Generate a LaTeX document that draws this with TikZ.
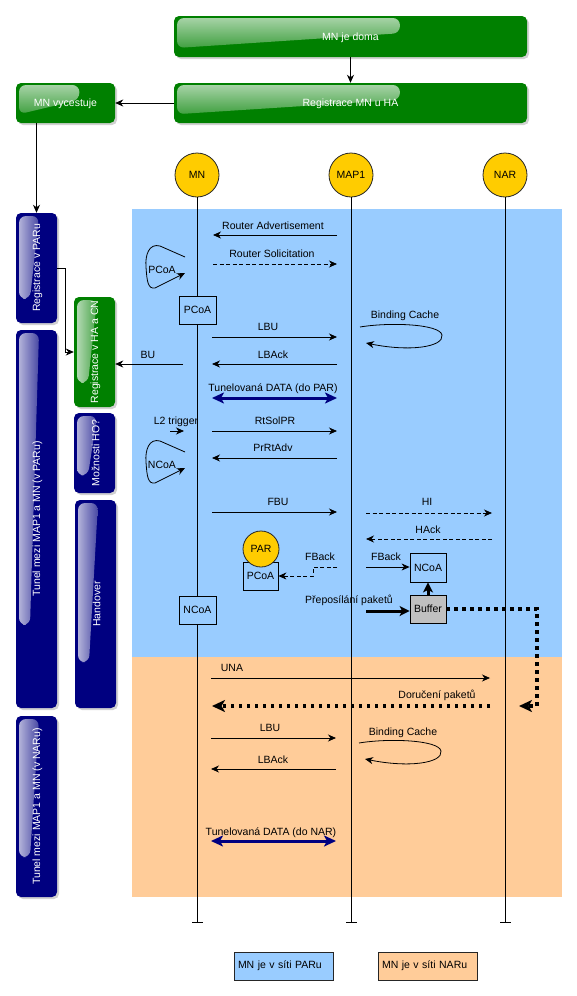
\documentclass[tikz,border=0pt]{standalone}
\usepackage{fontspec}
\setmainfont{Liberation Sans}
\usetikzlibrary{arrows.meta,calc}
\definecolor{navyc}{RGB}{0,0,128}
\definecolor{greenc}{RGB}{0,128,0}
\definecolor{areablue}{RGB}{153,204,255}
\definecolor{areaorange}{RGB}{255,204,153}
\definecolor{goldc}{RGB}{255,204,0}
\definecolor{bufgray}{RGB}{192,192,192}
\tikzset{
  txt/.style={font=\fontsize{10.5}{12}\selectfont, inner sep=0pt},
  lbl/.style={txt, text height=8pt, text depth=2pt},
  wtxt/.style={txt, text=white},
  arr/.style={line width=0.8pt, -{Stealth[length=8pt,width=7pt,inset=2.5pt]}},
  darr/.style={arr, dash pattern=on 4pt off 2.5pt},
  thickarr/.style={line width=3pt, -{Stealth[length=10pt,width=10pt,inset=2.5pt]}},
  tunarr/.style={line width=3pt, draw=navyc, {Stealth[length=12pt,width=11pt,inset=3pt]}-{Stealth[length=12pt,width=11pt,inset=3pt]}},
  pktdots/.style={line width=3.5pt, dash pattern=on 3.5pt off 4.5pt, -{Stealth[length=13pt,width=12pt,inset=3.5pt]}},
  life/.style={line width=0.8pt, -{Bar[width=11pt,line width=0.8pt]}},
  actor/.style={circle, draw=black!85, line width=0.8pt, fill=goldc, minimum size=44pt, inner sep=0pt, font=\fontsize{10.5}{12}\selectfont},
  coabox/.style={draw=black, line width=0.8pt, txt, inner sep=0pt},
  legendbox/.style={draw=black!85, line width=0.8pt, txt, minimum height=28pt, text width=91pt, inner xsep=4pt, align=left},
  boxshadow/.style={fill=black, opacity=0.18},
  coaloop/.pic={\draw[arr] (0,0) -- (-25,-11) .. controls (-36,-14) and (-40,-2) .. (-39,10) .. controls (-38,25) and (-37,32) .. (-30,31) -- (0,16);},
  bcloop/.pic={\draw[arr] (0,0) .. controls (30,-5) and (80,-3) .. (82,8) .. controls (84,20) and (50,25) .. (6,16);}
}
\newcommand\sidebar[7]{%
  \fill[boxshadow, rounded corners=5pt] ({#2+2},{#3+2}) rectangle ({#4+2},{#5+2});
  \node[fill=#6, rounded corners=5pt, inner sep=0pt, minimum width={#4-#2}, minimum height={#5-#3}] (#1) at ({(#2+#4)/2},{(#3+#5)/2}) {};
  \shade[left color=#6!30!white, right color=#6!72!white, rounded corners=7pt] ({#2+3},{#3+3}) -- ({#2+23},{#3+3}) -- ({#2+14},{#3+0.78*(#5-#3)}) -- ({#2+3},{#3+0.78*(#5-#3)}) -- cycle;
  \node[wtxt, rotate=90] (#1t) at ({(#2+#4)/2+1},{(#3+#5)/2}) {#7};
}
\newcommand\greenbox[6]{%
  \fill[boxshadow, rounded corners=5pt] ({#2+2},{#3+2}) rectangle ({#4+2},{#5+2});
  \node[fill=greenc, rounded corners=5pt, inner sep=0pt, minimum width={#4-#2}, minimum height={#5-#3}] (#1) at ({(#2+#4)/2},{(#3+#5)/2}) {};
  \shade[top color=greenc!35!white, bottom color=greenc!75!white, rounded corners=7pt] ({#2+3},{#3+2}) -- ({#2+0.64*(#4-#2)},{#3+2}) -- ({#2+0.64*(#4-#2)},{#3+0.42*(#5-#3)}) -- ({#2+3},{#3+0.78*(#5-#3)}) -- cycle;
  \node[wtxt] (#1t) at ({(#2+#4)/2},{(#3+#5)/2+1}) {#6};
}
\newcommand\msg[5]{%
  \coordinate (#1a) at (#3,#5); \coordinate (#1b) at (#4,#5);
  \draw[#2] (#1a) -- (#1b);
}
\begin{document}
\begin{tikzpicture}[x=1pt,y=-1pt]
\useasboundingbox (0,0) rectangle (577,996);
% background areas
\fill[areablue] (132,209) rectangle (562,657);
\fill[areaorange] (132,657) rectangle (562,897);

% top green boxes
\greenbox{doma}{174}{16}{527}{57}{MN je doma}
\greenbox{regha}{174}{83}{527}{123}{Registrace MN u HA}
\greenbox{vyc}{16}{83}{115}{123}{MN vycestuje}

% side bars
\sidebar{bparu}{16}{213}{57}{323}{navyc}{Registrace v PARu}
\sidebar{btunp}{16}{330}{57}{708}{navyc}{Tunel mezi MAP1 a MN (v PARu)}
\sidebar{btunn}{16}{716}{57}{897}{navyc}{Tunel mezi MAP1 a MN (v NARu)}
\sidebar{bhacn}{74}{297}{115}{407}{greenc}{Registrace v HA a CN}
\sidebar{bmozn}{74}{413}{115}{493}{navyc}{Možnosti HO?}
\sidebar{bhand}{75}{500}{116}{708}{navyc}{Handover}

\draw[arr] (doma.south) -- (regha.north);
\draw[arr] (regha.west) -- (vyc.east);
\draw[arr] (vyc.south -| bparu.north) -- (bparu.north);
\draw[arr] (bparu.east) -- ++(8,0) |- (bhacn.west);

% lifelines
\node[actor] (mn) at (197,175) {MN};
\node[actor] (map) at (351,175) {MAP1};
\node[actor] (nar) at (505,175) {NAR};
\coordinate (mnend) at (197,923);
\coordinate (mapend) at (351,923);
\coordinate (narend) at (505,923);
\draw[life] (mn) -- (mnend);
\draw[life] (map) -- (mapend);
\draw[life] (nar) -- (narend);

% messages in PAR network
\msg{ra}{arr}{337}{213}{235}
\node[lbl] (lra) at (273,226) {Router Advertisement};
\msg{rs}{darr}{213}{337}{264}
\node[lbl] (lrs) at (272,254) {Router Solicitation};
\pic (pl) at (185,257) {coaloop};
\node[lbl] (lpl) at (162,270) {PCoA};
\node[coabox, fill=areablue, minimum width=37pt, minimum height=28pt] (pcoa) at (197.5,310) {PCoA};
\msg{lbu}{arr}{212}{337}{337}
\node[lbl] (llbu) at (268,327) {LBU};
\msg{lba}{arr}{337}{212}{364}
\node[lbl] (llba) at (273,355) {LBAck};
\coordinate (bus) at (183,364);
\draw[arr] (bus) -- (bus -| bhacn.east);
\node[lbl] (lbu2) at (148,355) {BU};
\msg{tun1}{tunarr}{212}{337}{398}
\node[lbl] (ltun1) at (273,388) {Tunelovaná DATA (do PAR)};
\pic (bc1) at (360,327) {bcloop};
\node[lbl] (lbc1) at (405,315) {Binding Cache};

\msg{l2}{arr}{170}{184}{431}
\node[lbl] (ll2) at (176,421) {L2 trigger};
\msg{rtsol}{arr}{212}{337}{431}
\node[lbl] (lrtsol) at (275,421) {RtSolPR};
\msg{prrt}{arr}{337}{212}{458}
\node[lbl] (lprrt) at (273,448) {PrRtAdv};
\pic (nl) at (185,452) {coaloop};
\node[lbl] (lnl) at (162,465) {NCoA};
\msg{fbu}{arr}{212}{337}{512}
\node[lbl] (lfbu) at (278,502) {FBU};
\msg{hi}{darr}{366}{492}{513}
\node[lbl] (lhi) at (427,502) {HI};
\msg{hack}{darr}{492}{366}{539}
\node[lbl] (lhack) at (428,530) {HAck};

% PAR and boxes
\node[coabox, fill=areablue, minimum width=35pt, minimum height=28pt] (parco) at (260.5,576) {PCoA};
\node[actor, minimum size=36pt] (par) at (261,549) {PAR};
\coordinate (fb1s) at (337,567);
\draw[darr] (fb1s) -- (313,567) -- (313,576) -- (parco.east |- 0,576);
\node[lbl] (lfb1) at (320,557) {FBack};
\node[coabox, fill=areablue, minimum width=36pt, minimum height=29pt] (ncoa2) at (428,567.5) {NCoA};
\node[coabox, fill=bufgray, minimum width=36pt, minimum height=28pt] (buf) at (428,609) {Buffer};
\coordinate (fb2s) at (366,567);
\draw[arr] (fb2s) -- (fb2s -| ncoa2.west);
\node[lbl] (lfb2) at (386,557) {FBack};
\draw[thickarr] (buf.north) -- (ncoa2.south);
\coordinate (prs) at (366,611);
\draw[thickarr] (prs) -- (prs -| buf.west);
\node[lbl] (lpr) at (349,600) {Přeposílání paketů};
\node[coabox, fill=areablue, minimum width=37pt, minimum height=28pt] (ncoa1) at (197.5,610) {NCoA};
\coordinate (dcorner) at (537,706);
\coordinate (dend) at (519,706);
\draw[pktdots] (buf.east) -| (dcorner) -- (dend);

% messages in NAR network
\msg{una}{arr}{211}{490}{678}
\node[lbl] (luna) at (232,668) {UNA};
\msg{dor}{pktdots}{490}{212}{706}
\node[lbl] (ldor) at (437,695) {Doručení paketů};
\msg{lbu2}{arr}{211}{336}{738}
\node[lbl] (llbu2) at (270,728) {LBU};
\msg{lba2}{arr}{336}{211}{769}
\node[lbl] (llba2) at (273,760) {LBAck};
\pic (bc2) at (359,743) {bcloop};
\node[lbl] (lbc2) at (403,732) {Binding Cache};
\msg{tun2}{tunarr}{211}{336}{841}
\node[lbl] (ltun2) at (271,832) {Tunelovaná DATA (do NAR)};

% legend
\node[legendbox, fill=areablue] (leg1) at (283.5,966) {MN je v síti PARu};
\node[legendbox, fill=areaorange] (leg2) at (427.5,966) {MN je v síti NARu};
\end{tikzpicture}
\end{document}
